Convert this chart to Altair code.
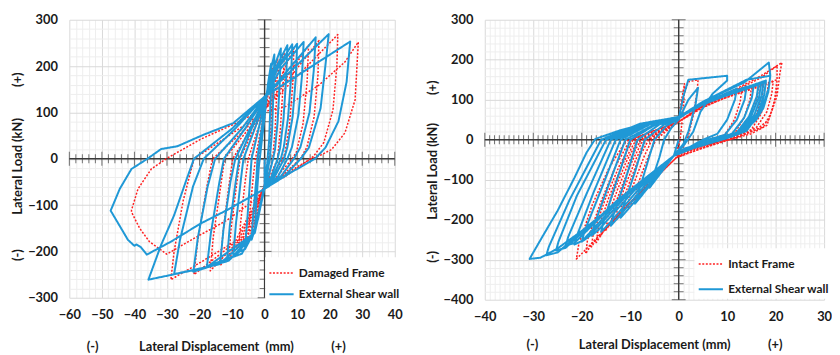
import altair as alt
import pandas as pd

# ---------------- data ----------------
# Left panel: Damaged Frame (red, dotted) and External Shear wall (blue)
damaged_left = [
    (0, 0), (0, -55),
    (-1.5, -110), (-3, -155), (-2.7, -100), (-2, -20), (-1, 40), (0, 90), (1, 150), (2.5, 195), (2.3, 130), (1.8, 40), (1.2, 0), (0.3, -40), (0, -55),
    (-2.5, -125), (-5, -180), (-4.6, -120), (-3.5, -40), (-2.8, 0), (-1.5, 50), (0, 100), (2, 170), (4, 215), (3.8, 150), (3.2, 60), (2.5, 0), (1, -40), (0, -56),
    (-4, -150), (-8, -200), (-7.4, -140), (-6, -50), (-5, 0), (-2.5, 55), (0, 103), (3, 160), (6, 230), (5.7, 160), (4.8, 60), (4, 0), (1.5, -40), (0, -57),
    (-5, -160), (-11, -215), (-10.3, -150), (-8.5, -50), (-7.5, 0), (-4, 55), (0, 104), (4, 160), (9, 240), (8.7, 165), (7.6, 70), (6.2, 10), (5.5, 0), (2, -42), (0, -57),
    (-6, -165), (-13.6, -230), (-12.8, -160), (-11, -60), (-9.8, 0), (-5, 55), (0, 105), (13.5, 245), (13.1, 170), (11.8, 75), (9.8, 15), (8.5, 0), (3, -45), (0, -58),
    (-7, -170), (-16.7, -242), (-15.8, -170), (-13.5, -60), (-12.3, 0), (-6, 55), (0, 106), (16.7, 255), (16.4, 180), (15.2, 90), (13, 25), (11, 0), (4, -45), (0, -58),
    (-8, -175), (-21.7, -250), (-20.5, -175), (-18, -70), (-16, 0), (-8, 50), (0, 106), (22.5, 268), (22.2, 200), (21, 105), (18.2, 35), (15, 5), (14, 0), (6, -40), (0, -58),
    (-9, -178), (-20, -225), (-28.8, -261), (-27.8, -200), (-25, -90), (-21.7, 0), (-12, 45), (0, 102), (6.5, 113), (16.7, 159), (24.7, 209), (28.8, 252),
    (27.8, 127), (24.7, 56), (20.6, 20), (16.7, 6), (14.5, 0), (10.6, -15), (0.5, -58),
    (-2.5, -86), (-11.6, -133), (-21.7, -172), (-30.1, -206), (-31.8, -197), (-35.4, -179), (-38.4, -150), (-40.9, -115), (-40.9, -111),
    (-38.9, -65), (-34.8, -22), (-29.8, 2), (-19.7, 42), (-9.6, 74), (-0.5, 106),
]
wall_left = [
    (0, 0), (0, -60),
    (-1.5, -110), (-3, -160), (-2.6, -100), (-1.8, -20), (-1, 30), (0, 90), (1, 160), (2, 205), (1.9, 140), (1.4, 40), (0.8, -10), (0, -55),
    (-2, -130), (-4, -175), (-3.5, -120), (-2.5, -40), (-2.2, 0), (-1.2, 50), (0, 110), (1.5, 180), (3, 225), (2.8, 160), (2.3, 60), (1.6, 0), (0.6, -40), (0, -58),
    (-3, -150), (-6, -190), (-5.3, -130), (-4.4, -40), (-4, 0), (-2, 60), (0, 120), (2.5, 190), (5, 238), (4.7, 170), (4, 80), (3.2, 20), (2.6, 0), (1, -45), (0, -60),
    (-3, -155), (-6, -195), (-9.6, -207), (-8.8, -140), (-7.2, -40), (-6.5, 0), (-3, 65), (0, 125), (3, 190), (7, 245), (6.6, 170), (5.8, 85), (4.8, 25), (4, 0), (2, -40), (0, -60),
    (-3, -155), (-7, -205), (-11.5, -215), (-10.7, -145), (-8.8, -45), (-7.8, 0), (-4, 65), (0, 126), (3.5, 192), (8.5, 247), (8.1, 172), (7.2, 88), (5.9, 25), (5, 0), (2.5, -40), (0, -61),
    (-3, -155), (-7, -205), (-13.6, -222), (-12.6, -150), (-10.5, -50), (-9, 0), (-4.5, 65), (0, 128), (4, 195), (10, 248), (9.6, 175), (8.6, 90), (7, 25), (6, 0), (3, -40), (0, -62),
    (-3, -158), (-9, -210), (-17.7, -232), (-16.5, -160), (-14, -55), (-12.5, 0), (-6, 65), (0, 130), (5, 195), (12, 252), (11.5, 180), (10.4, 95), (8.4, 25), (7, 0), (4, -40), (0, -62),
    (-3, -160), (-11, -220), (-21.9, -244), (-20.5, -170), (-17.5, -60), (-15.2, 0), (-7, 65), (0, 132), (15.7, 262), (15.1, 190), (13.8, 100), (11, 25), (9, 0), (5, -38), (0, -62),
    (-3, -160), (-14, -228), (-27.8, -249), (-26, -175), (-22, -60), (-18.7, 0), (-9, 65), (0, 134), (19.7, 269), (18.7, 202), (17.2, 109), (13.6, 24), (11.1, 0), (6, -38), (0, -63),
    (-3, -160), (-18, -235), (-35.7, -261), (-31.8, -186), (-27.8, -122), (-24, -45), (-21.7, 0), (-10, 65), (0, 134), (26.3, 253), (25.2, 166), (22.7, 81), (18.7, 24), (15.5, 0), (8, -30), (0, -65),
    (-11.6, -111), (-19.7, -140), (-28.8, -179), (-36.2, -207), (-38, -191), (-39.4, -185), (-40, -188), (-42, -175), (-47.3, -112),
    (-44.5, -65), (-40.9, -22), (-36, 0), (-31.8, 21), (-26.8, 27), (-18.7, 52), (-9.6, 77), (0, 134), (3, 160),
]

# Right panel: Intact Frame (red, dotted) and External Shear wall (blue)
intact_right = [
    (0, 0), (-0.5, -45),
    (-4.5, -91), (-7.5, -125), (-9, -153), (-8.6, -118), (-7.6, -84), (-6.1, -37), (-4.7, 0), (-2.7, 20), (0, 45), (0.6, 100), (1.2, 140), (1, 80), (0.3, 0), (-0.5, -45),
    (-5.25, -100), (-9, -144), (-10.5, -172), (-10.1, -137), (-8.8, -95), (-7.1, -41), (-5.5, 0), (-3.2, 20), (0, 45), (1, 110), (2, 145), (4, 150), (3.8, 120), (3, 60), (2, 10), (0.5, -30), (-0.5, -45),
    (-6, -109), (-10.5, -162), (-12, -190), (-11.6, -155), (-10.1, -105), (-8.2, -46), (-6.2, 0), (-3.6, 20), (0, 45), (5, 80), (13, 125), (12.7, 95), (11.5, 50), (9.5, 12), (6, -2), (2, -22), (-0.5, -45),
    (-6.5, -115), (-11.5, -174), (-13, -202), (-12.6, -167), (-10.9, -111), (-8.8, -48), (-6.8, 0), (-3.9, 20), (0, 45), (5, 82), (15, 130), (14.7, 100), (13.5, 55), (11.5, 15), (8, 0), (3, -22), (-0.5, -45),
    (-7, -121), (-12.5, -186), (-14, -214), (-13.6, -179), (-11.8, -118), (-9.5, -51), (-7.3, 0), (-4.2, 20), (0, 45), (5, 84), (16.5, 135), (16.2, 105), (15, 60), (13, 20), (9, 2), (3, -24), (-0.5, -45),
    (-7.5, -127), (-13.5, -198), (-15, -226), (-14.6, -191), (-12.6, -124), (-10.2, -54), (-7.8, 0), (-4.5, 20), (0, 45), (5, 85), (17.5, 138), (17.2, 108), (16, 62), (14, 22), (10, 4), (3, -25), (-0.5, -45),
    (-8, -133), (-14.5, -210), (-16, -238), (-15.6, -203), (-13.4, -131), (-10.9, -57), (-8.3, 0), (-4.8, 20), (0, 45), (5, 86), (18.5, 140), (18.2, 110), (17, 65), (15, 25), (11, 5), (4, -24), (-0.5, -45),
    (-8.5, -139), (-15.5, -229), (-17, -257), (-16.6, -222), (-14.3, -141), (-11.6, -62), (-8.8, 0), (-5.1, 20), (0, 45), (5, 87), (19.5, 145), (19.2, 115), (18.2, 70), (16, 30), (11.5, 5), (4, -25), (-0.5, -45),
    (-9, -146), (-16.5, -240), (-18, -268), (-17.6, -233), (-15.1, -147), (-12.2, -64), (-9.4, 0), (-5.4, 20), (0, 45), (5, 88), (20.3, 150), (20.1, 115), (19.2, 70), (17.5, 32), (12, 6), (4, -25), (-0.5, -45),
    (-9.6, -153), (-17.7, -257), (-19.2, -285), (-18.8, -250), (-16.1, -157), (-13.1, -68), (-10, 0), (-5.8, 20), (0, 45), (5, 85), (12, 125), (17, 155), (20.3, 185), (20.3, 150), (19.8, 100), (18.6, 50), (16, 25), (11.4, 4), (4, -25), (-0.5, -45),
    (-10.5, -164), (-19.6, -280), (-21.1, -298), (-20.6, -261), (-17.8, -162), (-14.4, -71), (-11, -5), (-6, 18), (0, 45), (5, 88), (12, 128), (17, 160), (21.3, 193), (20.9, 168), (20.3, 110), (18.2, 36), (15, 15), (11.4, 3), (5, -15), (-0.1, -34),
]
wall_right = [
    (0, 0), (-1, -40),
    (-3.5, -80), (-6, -120), (-5.5, -100), (-4, -45), (-3, 0), (-1.5, 30), (0, 50), (2, 100), (4, 130), (3.5, 90), (2, 20), (1, -10), (-1, -40),
    (-5, -100), (-9, -160), (-8.5, -140), (-6.5, -60), (-5, 0), (-2.5, 35), (0, 52), (1, 110), (2, 150), (6, 155), (10, 160), (10, 148), (7, 115), (4.5, 70), (3, 20), (1, -15), (-1, -40),
    (-6, -110), (-10.5, -175), (-12, -195), (-11.5, -170), (-9, -80), (-7, 0), (-3, 38), (0, 53), (4, 85), (12, 128), (11.6, 100), (10, 50), (8, 15), (5, 0), (2, -20), (-1, -40),
    (-7, -115), (-12.5, -195), (-14, -215), (-13.5, -190), (-11, -100), (-8.5, 0), (-4, 38), (0, 54), (4, 86), (14, 133), (13.6, 100), (12, 50), (9.5, 12), (6, 0), (2, -20), (-1, -40),
    (-8, -120), (-14.5, -212), (-16, -230), (-15.5, -205), (-13, -110), (-10, 0), (-5, 36), (0, 55), (5, 88), (15.5, 137), (15.1, 105), (13.5, 55), (11, 15), (7, 0), (2, -22), (-1, -40),
    (-9, -125), (-16.5, -225), (-18, -240), (-17.4, -212), (-14.5, -115), (-11, 0), (-5, 38), (0, 55), (5, 90), (16.5, 140), (16.1, 108), (14.5, 58), (12, 18), (8, 2), (3, -20), (-1, -40),
    (-10, -130), (-18.5, -242), (-20, -255), (-19.4, -228), (-16, -125), (-12, 0), (-6, 38), (0, 56), (5, 90), (17, 140), (16.6, 108), (15, 60), (12.5, 20), (8.5, 3), (3, -20), (-1, -40),
    (-11, -135), (-19.8, -252), (-21.5, -262), (-21, -240), (-17.5, -130), (-13, 0), (-6, 40), (0, 56), (5, 92), (17.5, 143), (17.1, 110), (15.6, 62), (13, 20), (9, 3), (3, -20), (-1, -40),
    (-12, -145), (-21.5, -258), (-23.3, -265), (-22.8, -243), (-19, -135), (-14, 0), (-7, 38), (0, 56), (5, 92), (18, 145), (17.6, 112), (16.2, 64), (13.5, 21), (9.5, 3), (3, -21), (-1, -40),
    (-12.5, -150), (-23.3, -270), (-25.3, -277), (-24.8, -255), (-21, -140), (-15, 0), (-7, 40), (0, 57), (5, 94), (18, 148), (17.7, 115), (16.6, 66), (14, 22), (10, 4), (3, -21), (-1, -40),
    (-13, -158), (-25, -282), (-27.3, -289), (-26.8, -268), (-22.5, -150), (-16, 0), (-8, 40), (0, 57), (5, 95), (14, 150), (18.9, 160), (18.6, 130), (17, 70), (14, 25), (10, 5), (3, -20), (-1, -40),
    (-6.3, -95), (-13, -160), (-20, -228), (-25, -272), (-28.5, -295), (-30.75, -298), (-30, -282), (-28, -240), (-25, -178), (-21.5, -95), (-19, -32), (-17.2, 2),
    (-12, 24), (-6, 42), (0, 55), (5, 95), (13.5, 143), (18.6, 193), (18.9, 160), (18.5, 120), (17.5, 80), (16, 50), (13.5, 22), (8, 3), (1.2, -22), (-1, -40),
]

left_names = ["Damaged Frame", "External Shear wall"]
right_names = ["Intact Frame", "External Shear wall"]

left_x_ticks = list(range(-60, 41, 2))
left_y_ticks = list(range(-300, 301, 20))
right_x_ticks = list(range(-40, 31, 1))
right_y_ticks = list(range(-400, 301, 20))

RED = "#ff2020"
BLUE = "#1f98d6"
FONT = "Lato"
INK = "#1a1a1a"
NB = "\u00a0"


def to_df(pairs):
    rows = []
    for name, pts in pairs:
        for i, (x, y) in enumerate(pts):
            rows.append({"x": x, "y": y, "series": name, "i": i})
    return pd.DataFrame(rows)


def panel(df, names, xdom, ydom, xvals, yvals, w, h, xtitle, ytitle,
          xt_x, xt_y, yt_x, yt_y, lx, ly, rowpad):
    xs = alt.Scale(domain=xdom, nice=False, zero=False)
    ys = alt.Scale(domain=ydom, nice=False, zero=False)
    xaxis = alt.Axis(
        values=xvals, labelExpr="datum.value % 10 === 0 ? datum.label : ''",
        grid=True,
        gridColor={"condition": {"test": "datum.value % 10 === 0", "value": "#d9d9d9"}, "value": "#eeeeee"},
        domain=False, ticks=False, labelFont=FONT, labelFontSize=13, labelFontWeight="bold",
        labelColor=INK, labelPadding=11, labelOverlap=False, labelFlush=False,
        title=xtitle, titleFont=FONT, titleFontSize=13, titleFontWeight="bold", titleColor=INK,
        titleX=xt_x, titleY=xt_y, titleAlign="center", titleBaseline="middle",
    )
    yaxis = alt.Axis(
        values=yvals, labelExpr="datum.value % 100 === 0 ? datum.label : ''",
        grid=True,
        gridColor={"condition": {"test": "datum.value % 100 === 0", "value": "#d9d9d9"}, "value": "#eeeeee"},
        domain=False, ticks=False, labelFont=FONT, labelFontSize=13, labelFontWeight="bold",
        labelColor=INK, labelPadding=12, labelOverlap=False, labelFlush=False,
        title=ytitle, titleFont=FONT, titleFontSize=13, titleFontWeight="bold", titleColor=INK,
        titleX=yt_x, titleY=yt_y, titleAlign="center", titleBaseline="middle", titleAngle=270,
    )

    zero_df = pd.DataFrame({"v": [0]})
    rule_v = alt.Chart(zero_df).mark_rule(color="#3a3a3a", strokeWidth=1.4).encode(
        x=alt.X("v:Q", scale=xs, axis=xaxis))
    rule_h = alt.Chart(zero_df).mark_rule(color="#3a3a3a", strokeWidth=1.4).encode(
        y=alt.Y("v:Q", scale=ys, axis=yaxis))

    xt_df = pd.DataFrame({"v": xvals, "z": [0] * len(xvals)})
    yt_df = pd.DataFrame({"v": yvals, "z": [0] * len(yvals)})
    tick_x = alt.Chart(xt_df).mark_tick(orient="vertical", thickness=1, color="#3a3a3a").encode(
        x=alt.X("v:Q", scale=xs, axis=xaxis),
        y=alt.Y("z:Q", scale=ys, axis=yaxis),
        size=alt.condition("datum.v % 10 === 0", alt.value(14), alt.value(9)),
    )
    tick_y = alt.Chart(yt_df).mark_tick(orient="horizontal", thickness=1, color="#3a3a3a").encode(
        y=alt.Y("v:Q", scale=ys, axis=yaxis),
        x=alt.X("z:Q", scale=xs, axis=xaxis),
        size=alt.condition("datum.v % 100 === 0", alt.value(14), alt.value(10)),
    )

    leg = alt.Legend(
        title=None, orient="none", legendX=lx, legendY=ly, symbolType="stroke",
        symbolSize=600, symbolStrokeWidth=2, labelFont=FONT, labelFontSize=12,
        labelFontWeight="bold", labelColor=INK, fillColor="white", padding=3,
        rowPadding=rowpad, labelOffset=4,
    )
    lines = alt.Chart(df).mark_line(clip=True, strokeJoin="round").encode(
        x=alt.X("x:Q", scale=xs, axis=xaxis),
        y=alt.Y("y:Q", scale=ys, axis=yaxis),
        color=alt.Color("series:N", scale=alt.Scale(domain=names, range=[RED, BLUE]), legend=leg),
        strokeDash=alt.StrokeDash("series:N", scale=alt.Scale(domain=names, range=[[2, 1.6], [1, 0]]), legend=leg),
        strokeWidth=alt.StrokeWidth("series:N", scale=alt.Scale(domain=names, range=[1.5, 2.0]), legend=None),
        order="i:Q",
        detail="series:N",
    )
    return alt.layer(rule_h, rule_v, tick_x, tick_y, lines).properties(width=w, height=h)


left_df = to_df([(left_names[0], damaged_left), (left_names[1], wall_left)])
right_df = to_df([(right_names[0], intact_right), (right_names[1], wall_right)])

left = panel(
    left_df, left_names, [-60, 40], [-300, 300], left_x_ticks, left_y_ticks, 329, 281,
    "(-)" + NB * 13 + "Lateral Displacement" + NB * 2 + "(mm)" + NB * 12 + "(+)",
    "(-)" + NB * 11 + "Lateral Load (kN)" + NB * 10 + "(+)",
    148, 49, -52, 148, 198, 240, 2,
)
right = panel(
    right_df, right_names, [-40, 30], [-400, 300], right_x_ticks, right_y_ticks, 343, 283,
    "(-)" + NB * 13 + "Lateral Displacement (mm)" + NB * 12 + "(+)",
    "(-)" + NB * 10 + "Lateral Load (kN)" + NB * 9 + "(+)",
    171, 45, -53, 153, 212, 231, 6,
)

chart = alt.hconcat(left, right, spacing=24).resolve_scale(
    x="independent", y="independent", color="independent",
    strokeDash="independent", strokeWidth="independent",
).resolve_legend(color="independent", strokeDash="independent").properties(
    padding={"left": 4, "top": 4, "right": 0, "bottom": 0},
    background="white",
).configure_view(stroke=None)

chart.save("out.html", embed_options={"renderer": "svg", "actions": False})
